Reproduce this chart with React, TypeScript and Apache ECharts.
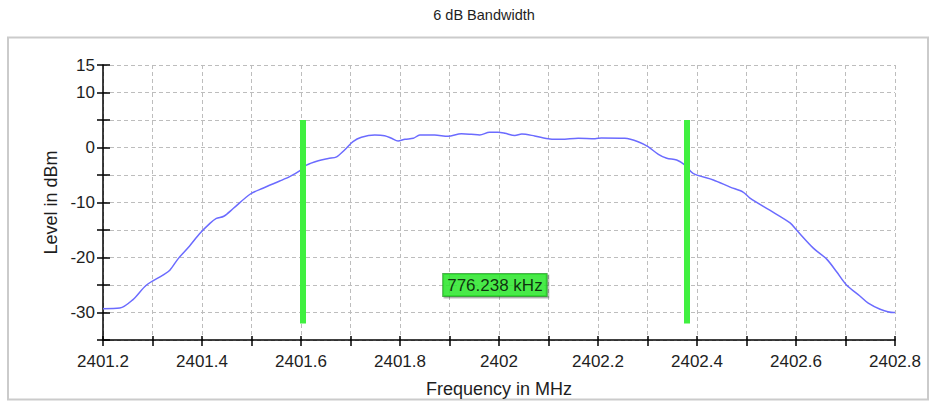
import React, { useEffect, useRef } from "react";
import * as echarts from "echarts";

// Spectrum trace: frequency (MHz) and level (dBm)
const freqs = [
  2401.2, 2401.234, 2401.26, 2401.288, 2401.321, 2401.335, 2401.352, 2401.375,
  2401.395, 2401.416, 2401.429, 2401.444, 2401.463, 2401.497, 2401.523, 2401.557,
  2401.577, 2401.598, 2401.611, 2401.635, 2401.655, 2401.672, 2401.688, 2401.705,
  2401.722, 2401.749, 2401.769, 2401.783, 2401.796, 2401.81, 2401.827, 2401.84,
  2401.87, 2401.897, 2401.924, 2401.944, 2401.961, 2401.981, 2401.998, 2402.012,
  2402.032, 2402.046, 2402.072, 2402.103, 2402.126, 2402.16, 2402.194, 2402.207,
  2402.254, 2402.281, 2402.301, 2402.322, 2402.339, 2402.359, 2402.376, 2402.392,
  2402.433, 2402.467, 2402.493, 2402.507, 2402.547, 2402.588, 2402.601, 2402.635,
  2402.662, 2402.682, 2402.702, 2402.729, 2402.746, 2402.77, 2402.797, 2402.8,
];
const levels = [
  -29.3, -29.2, -27.7, -25.0, -23.2, -22.3, -20.2, -17.9,
  -15.7, -13.8, -12.9, -12.5, -11.1, -8.5, -7.4, -6.1,
  -5.3, -4.2, -3.2, -2.4, -2.0, -1.7, -0.45, 1.06,
  1.85, 2.27, 2.15, 1.67, 1.18, 1.5, 1.67, 2.27,
  2.27, 2.03, 2.5, 2.4, 2.27, 2.76, 2.76, 2.58,
  2.2, 2.45, 2.1, 1.55, 1.48, 1.67, 1.6, 1.73,
  1.67, 1.06, 0.15, -1.24, -1.97, -2.27, -3.2, -4.7,
  -5.9, -7.2, -8.1, -9.2, -11.4, -13.7, -15.0, -18.3,
  -20.3, -22.6, -25.0, -27.0, -28.3, -29.4, -30.0, -30.0,
];

// 6 dB bandwidth markers
const markerLow = 2401.6036;
const bandwidthKHz = 776.238;
const markerHigh = markerLow + bandwidthKHz / 1000;
const markerSpan = [5, -32];
const labelLevel = -25;

const yLabelValues = [15, 10, 0, -10, -20, -30];

const FONT = "'Liberation Sans', Arial, sans-serif";
const TEXT = "#1e1e1e";

export default function App() {
  const ref = useRef<HTMLDivElement>(null);

  useEffect(() => {
    if (!ref.current) return;
    const chart = echarts.init(ref.current, undefined, { renderer: "svg" });
    const trace = freqs.map((f, i) => [f, levels[i]]);
    const mid = (markerLow + markerHigh) / 2;

    const xBase = {
      type: "value",
      min: 2401.2,
      max: 2402.8,
      interval: 0.1,
      gridIndex: 0,
      position: "bottom",
    };
    const yBase = {
      type: "value",
      min: -35,
      max: 15,
      interval: 5,
      gridIndex: 0,
      position: "left",
    };

    chart.setOption({
      animation: false,
      backgroundColor: "#ffffff",
      textStyle: { fontFamily: FONT },
      grid: { left: 103, right: 36, top: 65, bottom: 63 },
      graphic: [
        {
          type: "rect",
          z: -10,
          shape: { x: 8, y: 37.5, width: 920, height: 362 },
          style: {
            fill: "#ffffff",
            stroke: "#cbcbcb",
            lineWidth: 2,
          },
        },
        {
          type: "text",
          x: 484,
          y: 7,
          style: {
            text: "6 dB Bandwidth",
            fill: TEXT,
            font: `14.5px ${FONT}`,
            textAlign: "center",
          },
        },
      ],
      xAxis: [
        {
          ...xBase,
          name: "Frequency in MHz",
          nameLocation: "middle",
          nameGap: 40,
          nameTextStyle: { fontSize: 18, color: TEXT, fontFamily: FONT },
          axisLine: { show: true, onZero: false, lineStyle: { color: "#000", width: 1.5 } },
          axisTick: { show: true, inside: false, length: 6, lineStyle: { color: "#000", width: 1.5 } },
          axisLabel: {
            margin: 13,
            fontSize: 17,
            color: TEXT,
            fontFamily: FONT,
            formatter: (v: number) => {
              const t = Math.round(v * 10);
              return t % 2 === 0 ? String(t / 10) : "";
            },
          },
          splitLine: {
            show: true,
            lineStyle: { color: "#bdbdbd", type: [4, 3], width: 1 },
          },
        },
        {
          ...xBase,
          axisLine: { show: false, onZero: false },
          axisTick: { show: true, inside: true, length: 4, lineStyle: { color: "#000", width: 1.5 } },
          axisLabel: { show: false },
          splitLine: { show: false },
        },
      ],
      yAxis: [
        {
          ...yBase,
          name: "Level in dBm",
          nameLocation: "middle",
          nameGap: 37,
          nameRotate: 90,
          nameTextStyle: { fontSize: 18, color: TEXT, fontFamily: FONT },
          axisLine: { show: true, onZero: false, lineStyle: { color: "#000", width: 1.5 } },
          axisTick: { show: true, inside: false, length: 6, lineStyle: { color: "#000", width: 1.5 } },
          axisLabel: {
            margin: 8,
            fontSize: 17,
            color: TEXT,
            fontFamily: FONT,
            formatter: (v: number) => (yLabelValues.includes(Math.round(v)) ? String(Math.round(v)) : ""),
          },
          splitLine: {
            show: true,
            lineStyle: { color: "#bdbdbd", type: [4, 3], width: 1 },
          },
        },
        {
          ...yBase,
          axisLine: { show: false, onZero: false },
          axisTick: { show: true, inside: true, length: 7, lineStyle: { color: "#000", width: 1.5 } },
          axisLabel: { show: false },
          splitLine: { show: false },
        },
      ],
      series: [
        {
          type: "line",
          xAxisIndex: 0,
          yAxisIndex: 0,
          data: trace,
          showSymbol: false,
          smooth: 0.3,
          lineStyle: { color: "#6b6bff", width: 1.5 },
          z: 3,
          markLine: {
            silent: true,
            symbol: ["none", "none"],
            label: { show: false },
            lineStyle: { color: "#40f040", width: 6, type: "solid" },
            z: 4,
            data: [
              [{ coord: [markerLow, markerSpan[0]] }, { coord: [markerLow, markerSpan[1]] }],
              [{ coord: [markerHigh, markerSpan[0]] }, { coord: [markerHigh, markerSpan[1]] }],
            ],
          },
        },
        {
          type: "scatter",
          xAxisIndex: 0,
          yAxisIndex: 0,
          data: [[mid, labelLevel]],
          symbolSize: 0,
          z: 5,
          label: {
            show: true,
            position: "inside",
            formatter: `${bandwidthKHz.toFixed(3)} kHz`,
            fontSize: 17,
            fontFamily: FONT,
            color: "#000",
            backgroundColor: "#2bee2b",
            borderColor: "#1f9a1f",
            borderWidth: 1,
            padding: [3, 4, 2, 4],
            shadowColor: "rgba(0,0,0,0.35)",
            shadowOffsetX: 1.5,
            shadowOffsetY: 1.5,
            shadowBlur: 1,
          },
        },
      ],
    });

    return () => chart.dispose();
  }, []);

  return (
    <div
      ref={ref}
      style={{ position: "fixed", left: 0, top: 0, width: 931, height: 403 }}
    />
  );
}
